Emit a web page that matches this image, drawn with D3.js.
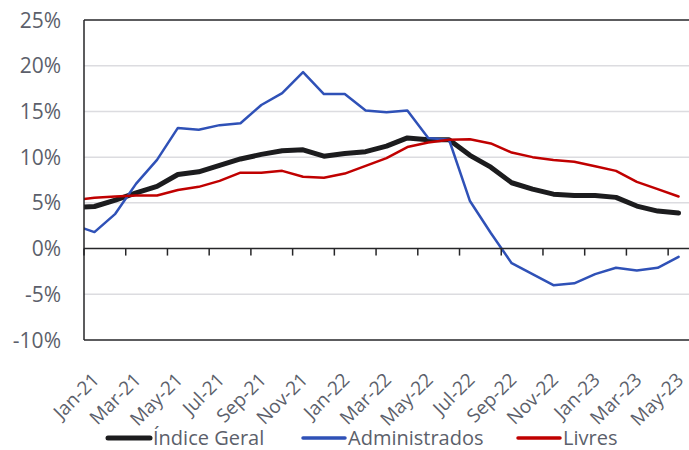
<!DOCTYPE html>
<html lang="pt">
<head>
  <meta charset="UTF-8" />
  <title>Inflação</title>
  <script src="https://d3js.org/d3.v7.min.js"></script>
  <style>
    body { margin: 0; background: #fff; }
    text { font-family: "Open Sans", "Noto Sans", sans-serif; fill: #5c5f6b; }
  </style>
</head>
<body>
  <svg id="chart" width="689" height="450"></svg>

  <script>
    // meses: Dez-20 (parcialmente visível) até Mai-23
    const months = ["Dec-20",
      "Jan-21","Feb-21","Mar-21","Apr-21","May-21","Jun-21","Jul-21","Aug-21","Sep-21","Oct-21","Nov-21","Dec-21",
      "Jan-22","Feb-22","Mar-22","Apr-22","May-22","Jun-22","Jul-22","Aug-22","Sep-22","Oct-22","Nov-22","Dec-22",
      "Jan-23","Feb-23","Mar-23","Apr-23","May-23"];

    const indiceGeral = [4.5,
      4.6, 5.3, 6.1, 6.8, 8.1, 8.4, 9.1, 9.8, 10.3, 10.7, 10.8, 10.1,
      10.4, 10.6, 11.2, 12.1, 11.9, 11.9, 10.2, 8.9, 7.2, 6.5, 5.95, 5.8,
      5.8, 5.6, 4.65, 4.1, 3.9];

    const administrados = [2.6,
      1.8, 3.8, 7.1, 9.7, 13.2, 13.0, 13.5, 13.7, 15.7, 17.0, 19.3, 16.9,
      16.9, 15.1, 14.9, 15.1, 12.1, 11.9, 5.2, 1.7, -1.6, -2.8, -4.0, -3.8,
      -2.8, -2.1, -2.4, -2.1, -0.9];

    const livres = [5.3,
      5.55, 5.7, 5.8, 5.8, 6.4, 6.75, 7.4, 8.3, 8.3, 8.5, 7.85, 7.75,
      8.2, 9.05, 9.9, 11.1, 11.6, 11.9, 11.95, 11.5, 10.5, 10.0, 9.7, 9.5,
      9.0, 8.5, 7.3, 6.5, 5.7];

    const tickLabels = ["Jan-21","Mar-21","May-21","Jul-21","Sep-21","Nov-21","Jan-22","Mar-22",
      "May-22","Jul-22","Sep-22","Nov-22","Jan-23","Mar-23","May-23"];
    const yTicks = [-10, -5, 0, 5, 10, 15, 20, 25];

    const series = [
      { name: "Índice Geral", values: indiceGeral, color: "#1c1c1e", width: 5 },
      { name: "Administrados", values: administrados, color: "#2f51b7", width: 2.5 },
      { name: "Livres", values: livres, color: "#c00000", width: 2.5 }
    ];

    const plotL = 84, plotR = 689, plotT = 20, plotB = 340;
    const svg = d3.select("#chart");

    // índice 0 = Jan-21; Dez-20 fica em -1
    const x = d3.scaleLinear().domain([-0.5, 28.5]).range([plotL, plotR]);
    const y = d3.scaleLinear().domain([-10, 25]).range([plotB, plotT]);

    svg.append("clipPath").attr("id", "clip")
      .append("rect").attr("x", plotL).attr("y", plotT)
      .attr("width", plotR - plotL).attr("height", plotB - plotT);

    // grade
    svg.append("g").selectAll("line")
      .data(yTicks.filter(d => d !== 0 && d !== 25 && d !== -10))
      .join("line")
      .attr("x1", plotL).attr("x2", plotR)
      .attr("y1", d => y(d)).attr("y2", d => y(d))
      .attr("stroke", "#dcdce0").attr("stroke-width", 1.5);

    // rótulos eixo y
    svg.append("g").selectAll("text")
      .data(yTicks)
      .join("text")
      .attr("x", 61).attr("y", d => y(d))
      .attr("dy", "0.36em")
      .attr("text-anchor", "end")
      .attr("font-size", 21)
      .text(d => d + "%");

    // linhas
    const line = d3.line()
      .x((d, i) => x(i - 1))
      .y(d => y(d));

    svg.append("g").attr("clip-path", "url(#clip)")
      .selectAll("path")
      .data(series)
      .join("path")
      .attr("fill", "none")
      .attr("stroke", d => d.color)
      .attr("stroke-width", d => d.width)
      .attr("stroke-linejoin", "round")
      .attr("stroke-linecap", "round")
      .attr("d", d => line(d.values));

    // bordas
    const border = svg.append("g").attr("stroke", "#262628").attr("stroke-width", 1.5);
    border.append("line").attr("x1", plotL).attr("x2", plotR).attr("y1", plotT).attr("y2", plotT);
    border.append("line").attr("x1", plotL).attr("x2", plotR).attr("y1", plotB).attr("y2", plotB);
    border.append("line").attr("x1", plotL).attr("x2", plotL).attr("y1", plotT).attr("y2", plotB);
    border.append("line").attr("x1", plotL).attr("x2", plotR).attr("y1", y(0)).attr("y2", y(0));

    // marcas no eixo zero, a cada dois meses
    const tickPos = d3.range(0, 29, 2).map(i => i - 0.5);
    border.selectAll("line.tick")
      .data(tickPos)
      .join("line")
      .attr("class", "tick")
      .attr("x1", d => x(d)).attr("x2", d => x(d))
      .attr("y1", y(0)).attr("y2", y(0) + 7);

    // rótulos eixo x
    svg.append("g").selectAll("text")
      .data(tickLabels)
      .join("text")
      .attr("transform", (d, i) => `translate(${x(i * 2) + 6},${381}) rotate(-45)`)
      .attr("text-anchor", "end")
      .attr("font-size", 19)
      .text(d => d);

    // legenda
    const legendX = [108, 303, 518];
    const legend = svg.append("g").selectAll("g")
      .data(series)
      .join("g")
      .attr("transform", (d, i) => `translate(${legendX[i]},438)`);
    legend.append("line")
      .attr("x1", 0).attr("x2", 42)
      .attr("stroke", d => d.color)
      .attr("stroke-width", (d, i) => i === 0 ? 5 : 3.5)
      .attr("stroke-linecap", "round");
    legend.append("text")
      .attr("x", 45).attr("dy", "0.36em")
      .attr("font-size", 20)
      .text(d => d.name);
  </script>
</body>
</html>
